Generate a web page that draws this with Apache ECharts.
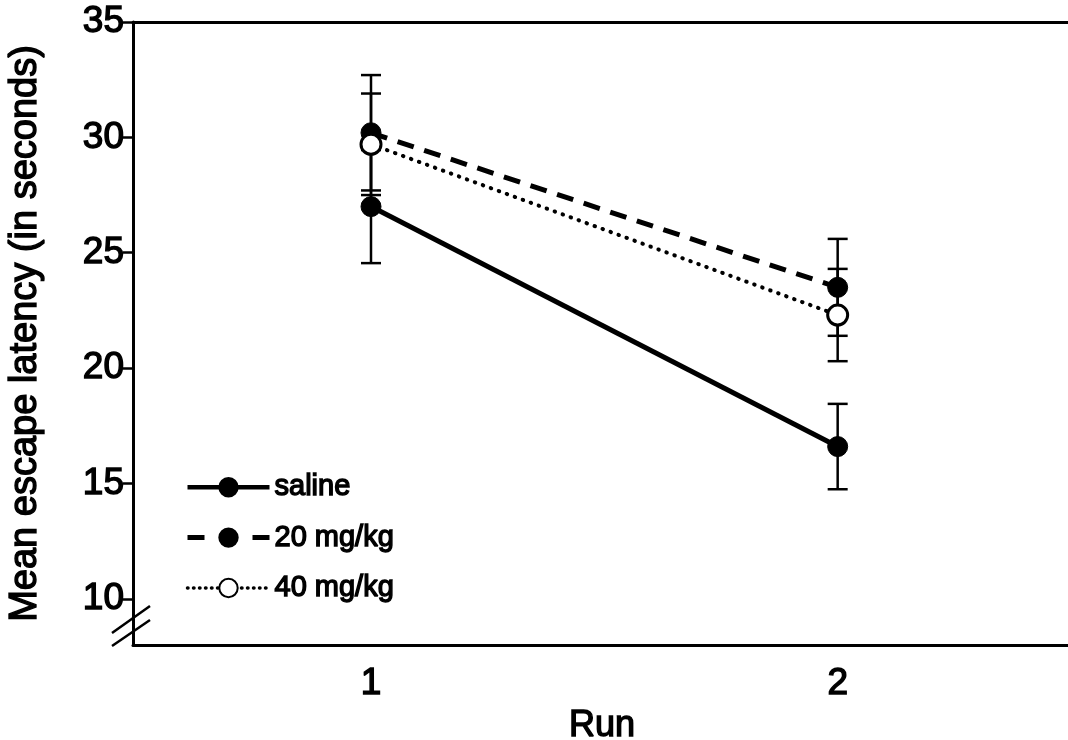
<!DOCTYPE html>
<html>
<head>
<meta charset="utf-8">
<script src="https://cdn.jsdelivr.net/npm/echarts@6/dist/echarts.min.js"></script>
<style>html,body{margin:0;padding:0;background:#fff;}#c{width:1068px;height:740px;}</style>
</head>
<body>
<div id="c"></div>
<script>
const runs = [1, 2];
const seriesNames = ['saline', '20 mg/kg', '40 mg/kg'];
const salineMean = [27.0, 16.6];
const salineErr = [2.45, 1.85];
const mg20Mean = [30.2, 23.5];
const mg20Err = [2.5, 2.1];
const mg40Mean = [29.7, 22.3];
const mg40Err = [2.2, 2.0];
const yTicks = [10, 15, 20, 25, 30, 35];
const xTicks = [1, 2];

const FONT = "'Liberation Sans', Arial, Helvetica, sans-serif";
function txt(size) {
  return { fontFamily: FONT, fontSize: size, color: '#000', textBorderColor: '#000', textBorderWidth: 1.4 };
}

function pts(means) { return runs.map((r, i) => [r, means[i]]); }
function errs(means, e) { return runs.map((r, i) => [r, means[i] - e[i], means[i] + e[i]]); }

function errSeries(means, e) {
  return {
    type: 'custom',
    z: 1,
    silent: true,
    data: errs(means, e),
    renderItem: function (params, api) {
      const x = api.value(0);
      const lo = api.coord([x, api.value(1)]);
      const hi = api.coord([x, api.value(2)]);
      const hw = 10;
      const st = { stroke: '#000', lineWidth: 2.5 };
      return {
        type: 'group',
        children: [
          { type: 'line', shape: { x1: lo[0], y1: lo[1], x2: hi[0], y2: hi[1] }, style: st },
          { type: 'line', shape: { x1: lo[0] - hw, y1: lo[1], x2: lo[0] + hw, y2: lo[1] }, style: st },
          { type: 'line', shape: { x1: hi[0] - hw, y1: hi[1], x2: hi[0] + hw, y2: hi[1] }, style: st }
        ]
      };
    }
  };
}

const chart = echarts.init(document.getElementById('c'));
const option = {
  backgroundColor: '#fff',
  animation: false,
  textStyle: { fontFamily: FONT, color: '#000' },
  grid: { left: 133, top: 22, right: -3, bottom: 95, outerBoundsMode: 'none', containLabel: false },
  legend: {
    orient: 'vertical',
    left: 180,
    top: 467,
    itemWidth: 82,
    itemHeight: 23,
    itemGap: 20,
    data: [
      { name: seriesNames[0], lineStyle: { type: 'solid', width: 4.5 } },
      { name: seriesNames[1], lineStyle: { type: [17, 48], width: 5 } },
      { name: seriesNames[2], lineStyle: { type: [0.5, 5.5], width: 3.5, cap: 'round' } }
    ],
    textStyle: Object.assign(txt(29), { lineHeight: 30 })
  },
  xAxis: [{
    type: 'value',
    min: 0.49,
    max: 2.5,
    name: 'Run',
    nameLocation: 'middle',
    nameGap: 53,
    nameTextStyle: txt(36),
    axisLine: { show: true, onZero: false, lineStyle: { color: '#000', width: 3 } },
    axisTick: { show: false },
    splitLine: { show: false },
    axisLabel: Object.assign({ customValues: xTicks, margin: 20 }, txt(37))
  }, {
    type: 'value',
    position: 'top',
    min: 0.49,
    max: 2.5,
    axisLine: { show: true, onZero: false, lineStyle: { color: '#000', width: 3 } },
    axisTick: { show: false },
    axisLabel: { show: false },
    splitLine: { show: false }
  }],
  yAxis: {
    type: 'value',
    min: 8,
    max: 35,
    name: 'Mean escape latency (in seconds)',
    nameLocation: 'middle',
    nameGap: 88,
    nameTextStyle: txt(38),
    axisLine: { show: true, onZero: false, lineStyle: { color: '#000', width: 3 } },
    axisTick: { show: true, customValues: yTicks, length: 10, lineStyle: { color: '#000', width: 2.5 } },
    splitLine: { show: false },
    axisLabel: Object.assign({ customValues: yTicks, margin: 9 }, txt(37))
  },
  series: [
    errSeries(salineMean, salineErr),
    errSeries(mg20Mean, mg20Err),
    errSeries(mg40Mean, mg40Err),
    {
      name: 'saline', type: 'line', z: 3, data: pts(salineMean),
      symbol: 'circle', symbolSize: 20,
      itemStyle: { color: '#000', borderColor: '#000', borderWidth: 1 },
      lineStyle: { color: '#000', width: 5, type: 'solid' }
    },
    {
      name: '20 mg/kg', type: 'line', z: 3, data: pts(mg20Mean),
      symbol: 'circle', symbolSize: 20,
      itemStyle: { color: '#000', borderColor: '#000', borderWidth: 1 },
      lineStyle: { color: '#000', width: 5, type: [17, 11] }
    },
    {
      name: '40 mg/kg', type: 'line', z: 3, data: pts(mg40Mean),
      symbol: 'circle', symbolSize: 20,
      itemStyle: { color: '#fff', borderColor: '#000', borderWidth: 3 },
      lineStyle: { color: '#000', width: 4, type: [0.5, 8], cap: 'round' }
    }
  ]
};
chart.setOption(option);

// axis-break marks on the y axis, anchored to the axis origin
const o = chart.convertToPixel({ gridIndex: 0 }, [0.49, 8]);
chart.setOption({
  graphic: [
    { type: 'line', shape: { x1: o[0] - 21, y1: o[1] + 1, x2: o[0] + 17, y2: o[1] - 25 }, style: { stroke: '#000', lineWidth: 2.5 } },
    { type: 'line', shape: { x1: o[0] - 21, y1: o[1] - 12, x2: o[0] + 17, y2: o[1] - 39 }, style: { stroke: '#000', lineWidth: 2.5 } }
  ]
});
</script>
</body>
</html>
